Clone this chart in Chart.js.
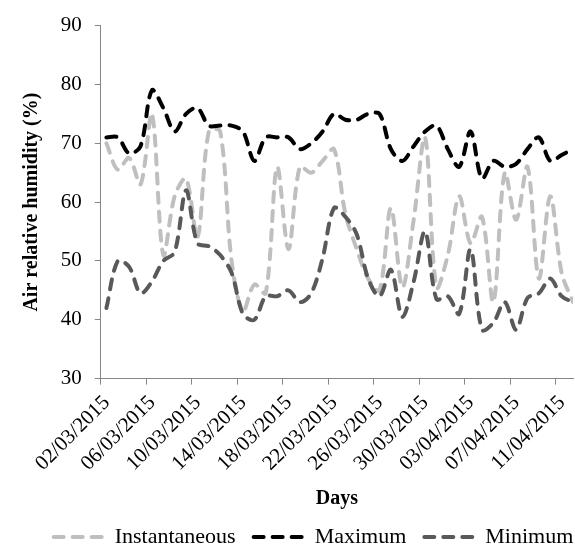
<!DOCTYPE html>
<html>
<head>
<meta charset="utf-8">
<script src="https://cdn.jsdelivr.net/npm/chart.js@4.4.1/dist/chart.umd.min.js"></script>
<style>
  html, body { margin: 0; padding: 0; background: #fff; }
</style>
</head>
<body>
<canvas id="chart1" width="575" height="549"></canvas>
<script>
// date labels on the x axis, one every 4 days
const tickLabels = [
  "02/03/2015", "06/03/2015", "10/03/2015", "14/03/2015", "18/03/2015", "22/03/2015",
  "26/03/2015", "30/03/2015", "03/04/2015", "07/04/2015", "11/04/2015"
];

// daily relative humidity (%), 02/03/2015 .. 12/04/2015
const instantaneous = [
  70, 65.5, 67.5, 63, 75, 51, 61, 64, 54, 72, 72, 50, 41.5, 46,
  44.5, 66, 52, 66, 65, 67, 69, 58, 52, 47, 45, 59, 45.5, 57,
  71, 45.5, 51, 61, 53, 57.5, 43, 65, 57, 66, 47, 61, 48, 43
];
const maximum = [
  71, 71, 68.3, 69.5, 79, 76, 72, 75, 76, 73, 73, 73, 72, 67,
  71, 71, 71, 69, 70, 72, 75, 74, 74, 75, 75, 69, 67, 69.5,
  72, 73, 69, 66, 72, 64, 67, 66, 66.5, 69, 71, 67, 68, 69
];
const minimum = [
  42, 50, 49, 44.5, 46.5, 50, 51.5, 62, 53, 52.5, 51, 48, 41, 40,
  44, 44, 45, 43, 44.5, 50.5, 59, 57.5, 54.5, 47, 44, 48.5, 40.5, 46.5,
  55, 43.5, 44, 41, 52, 38.3, 39.5, 43, 38.3, 43.7, 44.5, 47, 44, 43
];

const serif = "Liberation Serif";

// each reading sits in the middle of its day
function toPoints(values) {
  return values.map((v, i) => ({ x: i + 0.5, y: v }));
}

// move the legend row a bit to the right, like the original
const legendShift = {
  id: "legendShift",
  afterLayout(chart) {
    chart.legend.left += 27;
    chart.legend.right += 27;
  }
};

const ctx = document.getElementById("chart1").getContext("2d");
const myChart = new Chart(ctx, {
  type: "line",
  data: {
    datasets: [
      {
        label: "Instantaneous",
        data: toPoints(instantaneous),
        borderColor: "#bfbfbf",
        borderWidth: 4,
        borderDash: [10, 9],
        order: 3
      },
      {
        label: "Maximum",
        data: toPoints(maximum),
        borderColor: "#000000",
        borderWidth: 4,
        borderDash: [10, 9],
        order: 2
      },
      {
        label: "Minimum",
        data: toPoints(minimum),
        borderColor: "#595959",
        borderWidth: 4,
        borderDash: [10, 9],
        order: 1
      }
    ]
  },
  options: {
    responsive: false,
    animation: false,
    layout: { padding: { top: 19, right: 2, bottom: -9, left: 0 } },
    elements: {
      point: { radius: 0 },
      line: { tension: 0.33, borderCapStyle: "round", fill: false }
    },
    plugins: {
      tooltip: { enabled: false },
      legend: {
        position: "bottom",
        labels: {
          usePointStyle: true,
          pointStyleWidth: 50,
          padding: 18,
          color: "#000",
          font: { family: serif, size: 22 },
          generateLabels: (chart) =>
            chart.data.datasets.map((ds, i) => ({
              text: ds.label,
              strokeStyle: ds.borderColor,
              fillStyle: ds.borderColor,
              lineWidth: ds.borderWidth,
              lineDash: ds.borderDash,
              lineCap: "round",
              pointStyle: "line",
              fontColor: "#000",
              datasetIndex: i
            }))
        }
      }
    },
    scales: {
      x: {
        type: "linear",
        min: 0,
        max: 41.5,
        afterBuildTicks: (scale) => {
          scale.ticks = tickLabels.map((t, i) => ({ value: i * 4 }));
        },
        afterFit: (scale) => {
          scale.height = 129.4;
          scale.paddingRight = 0;
        },
        ticks: {
          autoSkip: false,
          minRotation: 45,
          maxRotation: 45,
          padding: 6,
          labelOffset: 6,
          color: "#000",
          font: { family: serif, size: 21 },
          callback: (value, index) => tickLabels[index]
        },
        grid: { drawOnChartArea: false, tickLength: 6, color: "#868686" },
        border: { color: "#868686" },
        title: {
          display: true,
          text: "Days",
          color: "#000",
          font: { family: serif, size: 20, weight: "bold" },
          padding: { top: 0, bottom: -3 }
        }
      },
      y: {
        min: 30,
        max: 90,
        afterFit: (scale) => {
          scale.width = 100.7;
        },
        ticks: {
          stepSize: 10,
          padding: 13,
          color: "#000",
          font: { family: serif, size: 21 }
        },
        grid: { drawOnChartArea: false, tickLength: 6, color: "#868686" },
        border: { color: "#868686" },
        title: {
          display: true,
          text: "Air relative humidity (%)",
          color: "#000",
          font: { family: serif, size: 20, weight: "bold" },
          padding: { top: 20, bottom: 0 }
        }
      }
    }
  },
  plugins: [legendShift]
});
</script>
</body>
</html>
